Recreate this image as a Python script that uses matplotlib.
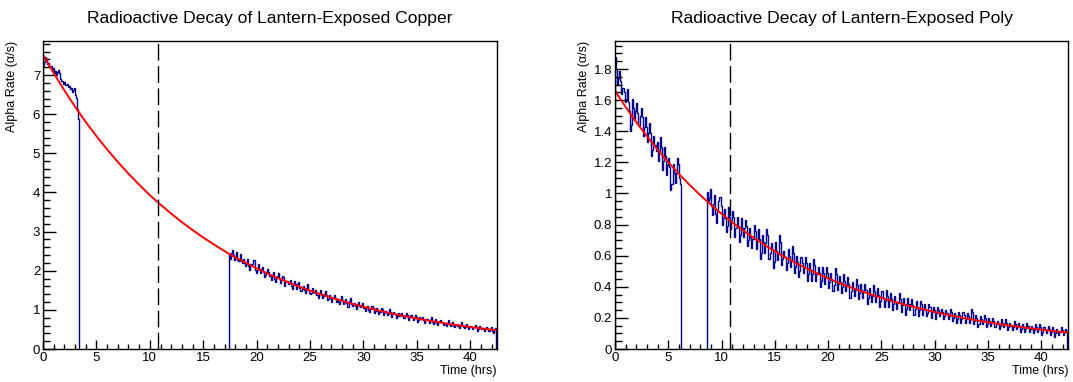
# -*- coding: utf-8 -*-
"""
Radioactive decay of lantern-exposed copper and poly samples.
ROOT-style histograms of alpha rate with exponential fit.
"""

import numpy as np
import matplotlib
matplotlib.use('Agg')
import matplotlib.pyplot as plt
from matplotlib.ticker import MultipleLocator

plt.rcParams['font.family'] = ['Liberation Sans', 'DejaVu Sans']

## Data (0.1 hr bins)

bin_width = 0.1
x_max = 42.5
t_dashed = 10.75

# Copper, first run (starts at 0 hrs)
cu_start1 = 0.0
cu_rate1 = [7.26, 7.34, 7.45, 7.38, 7.27, 7.31, 7.20, 7.23, 7.12, 7.17,
            7.06, 7.10, 7.01, 7.08, 7.14, 7.06, 6.90, 6.84, 6.86, 6.78,
            6.81, 6.74, 6.77, 6.69, 6.72, 6.64, 6.67, 6.57, 6.63, 6.68,
            6.50, 6.42, 6.12, 5.88]
# Copper, second run (starts at 17.4 hrs)
cu_start2 = 17.4
cu_rate2 = [2.41, 2.31, 2.46, 2.52, 2.41, 2.27, 2.36, 2.48, 2.28, 2.24,
            2.42, 2.26, 2.21, 2.29, 2.19, 2.13, 2.17, 2.31, 2.13, 2.01,
            2.17, 2.15, 2.17, 2.27, 2.01, 1.93, 2.01, 2.17, 2.05, 1.93,
            2.05, 2.09, 1.98, 1.84, 1.88, 1.96, 2.04, 1.98, 1.87, 1.77,
            1.86, 1.98, 1.79, 1.71, 1.81, 1.87, 1.93, 1.81, 1.68, 1.78,
            1.87, 1.83, 1.62, 1.74, 1.75, 1.65, 1.71, 1.77, 1.61, 1.53,
            1.63, 1.73, 1.65, 1.53, 1.66, 1.70, 1.57, 1.47, 1.54, 1.62,
            1.50, 1.44, 1.55, 1.67, 1.52, 1.44, 1.40, 1.44, 1.56, 1.46,
            1.43, 1.51, 1.37, 1.31, 1.42, 1.52, 1.39, 1.31, 1.35, 1.41,
            1.48, 1.38, 1.24, 1.28, 1.39, 1.31, 1.20, 1.30, 1.37, 1.31,
            1.21, 1.29, 1.19, 1.15, 1.25, 1.35, 1.23, 1.15, 1.21, 1.27,
            1.18, 1.08, 1.22, 1.30, 1.15, 1.09, 1.14, 1.18, 1.10, 1.02,
            1.12, 1.20, 1.11, 1.07, 1.12, 1.18, 1.06, 0.98, 1.07, 1.11,
            1.00, 0.94, 1.03, 1.11, 1.11, 1.05, 0.93, 0.97, 1.05, 0.97,
            0.89, 0.95, 1.06, 1.02, 0.88, 0.96, 0.98, 0.92, 0.86, 0.90,
            1.01, 0.95, 0.83, 0.91, 0.94, 0.90, 0.79, 0.85, 0.93, 0.85,
            0.89, 0.93, 0.84, 0.78, 0.80, 0.86, 0.91, 0.87, 0.73, 0.81,
            0.87, 0.81, 0.75, 0.79, 0.87, 0.81, 0.69, 0.75, 0.81, 0.77,
            0.77, 0.83, 0.73, 0.67, 0.73, 0.77, 0.73, 0.67, 0.75, 0.81,
            0.69, 0.65, 0.70, 0.76, 0.67, 0.61, 0.68, 0.72, 0.74, 0.68,
            0.61, 0.65, 0.64, 0.58, 0.67, 0.73, 0.64, 0.60, 0.63, 0.69,
            0.60, 0.56, 0.61, 0.65, 0.59, 0.53, 0.62, 0.68, 0.60, 0.56,
            0.53, 0.57, 0.65, 0.59, 0.51, 0.55, 0.60, 0.56, 0.50, 0.56,
            0.61, 0.57, 0.47, 0.51, 0.59, 0.53, 0.50, 0.54, 0.50, 0.46,
            0.51, 0.57, 0.51, 0.47, 0.52, 0.56, 0.47, 0.41, 0.50, 0.54]

# Poly, first run
po_start1 = 0.0
po_rate1 = [1.88, 1.80, 1.70, 1.74, 1.79, 1.72, 1.64, 1.68, 1.65, 1.59,
            1.61, 1.67, 1.59, 1.53, 1.40, 1.44, 1.61, 1.55, 1.47, 1.53,
            1.58, 1.52, 1.44, 1.50, 1.55, 1.49, 1.37, 1.43, 1.49, 1.43,
            1.33, 1.39, 1.45, 1.39, 1.24, 1.28, 1.37, 1.31, 1.27, 1.33,
            1.21, 1.27, 1.36, 1.30, 1.15, 1.21, 1.30, 1.24, 1.12, 1.18,
            1.23, 1.17, 1.02, 1.06, 1.19, 1.13, 1.07, 1.13, 1.23, 1.19,
            1.10, 1.06]
# Poly, second run
po_start2 = 8.6
po_rate2 = [1.01, 0.95, 0.97, 1.03, 0.92, 0.86, 0.93, 0.99, 0.87, 0.81,
            0.89, 0.95, 0.98, 0.92, 0.80, 0.84, 0.90, 0.84, 0.75, 0.79,
            0.91, 0.85, 0.77, 0.83, 0.89, 0.85, 0.72, 0.78, 0.85, 0.79,
            0.69, 0.73, 0.84, 0.78, 0.72, 0.78, 0.83, 0.79, 0.66, 0.70,
            0.78, 0.72, 0.65, 0.71, 0.80, 0.76, 0.64, 0.70, 0.77, 0.71,
            0.58, 0.62, 0.73, 0.69, 0.62, 0.68, 0.77, 0.73, 0.58, 0.62,
            0.68, 0.64, 0.52, 0.56, 0.69, 0.63, 0.57, 0.61, 0.73, 0.69,
            0.54, 0.58, 0.63, 0.59, 0.51, 0.55, 0.64, 0.60, 0.53, 0.57,
            0.66, 0.62, 0.49, 0.53, 0.60, 0.56, 0.46, 0.50, 0.59, 0.55,
            0.49, 0.53, 0.59, 0.55, 0.44, 0.48, 0.55, 0.51, 0.44, 0.48,
            0.58, 0.54, 0.44, 0.48, 0.53, 0.49, 0.40, 0.44, 0.53, 0.49,
            0.42, 0.46, 0.53, 0.49, 0.39, 0.43, 0.49, 0.45, 0.37, 0.41,
            0.52, 0.48, 0.38, 0.42, 0.47, 0.43, 0.36, 0.40, 0.48, 0.44,
            0.37, 0.41, 0.46, 0.42, 0.33, 0.37, 0.43, 0.39, 0.34, 0.38,
            0.45, 0.41, 0.32, 0.36, 0.42, 0.38, 0.33, 0.37, 0.42, 0.38,
            0.29, 0.33, 0.39, 0.35, 0.30, 0.34, 0.41, 0.37, 0.30, 0.34,
            0.39, 0.35, 0.27, 0.31, 0.37, 0.33, 0.27, 0.31, 0.38, 0.34,
            0.27, 0.31, 0.36, 0.32, 0.25, 0.29, 0.34, 0.30, 0.26, 0.30,
            0.36, 0.32, 0.24, 0.28, 0.33, 0.29, 0.22, 0.26, 0.33, 0.29,
            0.25, 0.29, 0.32, 0.28, 0.22, 0.26, 0.31, 0.27, 0.21, 0.25,
            0.31, 0.29, 0.22, 0.26, 0.29, 0.25, 0.21, 0.23, 0.29, 0.27,
            0.20, 0.24, 0.27, 0.25, 0.19, 0.23, 0.27, 0.25, 0.21, 0.23,
            0.26, 0.24, 0.19, 0.21, 0.25, 0.23, 0.19, 0.21, 0.26, 0.24,
            0.18, 0.20, 0.23, 0.21, 0.17, 0.19, 0.24, 0.22, 0.17, 0.19,
            0.24, 0.22, 0.17, 0.19, 0.23, 0.21, 0.17, 0.19, 0.26, 0.24,
            0.16, 0.18, 0.22, 0.20, 0.14, 0.16, 0.21, 0.19, 0.16, 0.18,
            0.22, 0.20, 0.14, 0.16, 0.20, 0.18, 0.15, 0.17, 0.20, 0.18,
            0.14, 0.16, 0.18, 0.16, 0.13, 0.15, 0.19, 0.17, 0.14, 0.16,
            0.19, 0.17, 0.12, 0.14, 0.17, 0.15, 0.12, 0.14, 0.18, 0.16,
            0.13, 0.15, 0.17, 0.15, 0.11, 0.13, 0.16, 0.14, 0.11, 0.13,
            0.17, 0.15, 0.11, 0.13, 0.15, 0.13, 0.10, 0.12, 0.16, 0.14,
            0.11, 0.13, 0.16, 0.14, 0.09, 0.11, 0.14, 0.12, 0.10, 0.12,
            0.15, 0.13, 0.09, 0.11, 0.14, 0.12, 0.08, 0.10, 0.13, 0.11,
            0.09, 0.11, 0.14, 0.12, 0.09, 0.11, 0.13, 0.11]

# Fit curves (red), read every hour
fit_time = [0, 1, 2, 3, 4, 5, 6, 7, 8, 9, 10, 11, 12, 13, 14, 15, 16, 17,
            18, 19, 20, 21, 22, 23, 24, 25, 26, 27, 28, 29, 30, 31, 32, 33,
            34, 35, 36, 37, 38, 39, 40, 41, 42, 42.5]
cu_fit = [7.52, 7.05, 6.61, 6.19, 5.80, 5.44, 5.10, 4.78, 4.48, 4.20,
          3.93, 3.69, 3.46, 3.24, 3.04, 2.85, 2.67, 2.50, 2.34, 2.20,
          2.06, 1.93, 1.81, 1.70, 1.59, 1.49, 1.40, 1.31, 1.23, 1.15,
          1.08, 1.01, 0.946, 0.887, 0.831, 0.779, 0.730, 0.684, 0.641,
          0.601, 0.563, 0.528, 0.495, 0.479]
po_fit = [1.660, 1.556, 1.458, 1.367, 1.281, 1.201, 1.125, 1.055, 0.989,
          0.927, 0.869, 0.814, 0.763, 0.715, 0.670, 0.628, 0.589, 0.552,
          0.517, 0.485, 0.454, 0.426, 0.399, 0.374, 0.351, 0.329, 0.308,
          0.289, 0.271, 0.254, 0.238, 0.223, 0.209, 0.196, 0.183, 0.172,
          0.161, 0.151, 0.142, 0.133, 0.124, 0.117, 0.109, 0.106]

hist_color = '#00008f'
fit_color = '#ff0000'


def bin_edges(start, rates):
    # Edges of consecutive bins beginning at the run start
    return start + bin_width * np.arange(len(rates) + 1)


def draw_panel(ax, runs, fit_vals, y_max, y_major, y_minor, title):
    for start, rates in runs:
        edges = bin_edges(start, rates)
        edges[-1] = min(edges[-1], x_max)
        ax.stairs(rates, edges, baseline=0, color=hist_color, linewidth=1.0)
    ax.plot(fit_time, fit_vals, color=fit_color, linewidth=1.4)
    ax.axvline(t_dashed, color='black', linewidth=1.0, linestyle=(0, (12, 4)))

    ax.set_xlim(0, x_max)
    ax.set_ylim(0, y_max)
    ax.xaxis.set_major_locator(MultipleLocator(5))
    ax.xaxis.set_minor_locator(MultipleLocator(1))
    ax.yaxis.set_major_locator(MultipleLocator(y_major))
    ax.yaxis.set_minor_locator(MultipleLocator(y_minor))
    ax.tick_params(axis='both', which='both', direction='in', width=1,
                   labelsize=9.5, top=False, right=False)
    ax.tick_params(axis='y', which='major', length=9.5, pad=2)
    ax.tick_params(axis='y', which='minor', length=4.8)
    ax.tick_params(axis='x', which='major', length=6.6, pad=2)
    ax.tick_params(axis='x', which='minor', length=3.3)
    for sp in ax.spines.values():
        sp.set_linewidth(1)

    ax.set_xlabel('Time (hrs)', loc='right', fontsize=9, labelpad=1)
    ax.set_ylabel('Alpha Rate (\u03b1/s)', loc='top', fontsize=9)
    ax.yaxis.set_label_coords(-0.055, 1.0)
    ax.set_title(title, fontsize=12.6, pad=13)


fig_ure = plt.figure(figsize=(10.73, 3.82), dpi=100)
ax1 = fig_ure.add_axes([43 / 1073, 1 - 349 / 382, 454 / 1073, 308 / 382])
ax2 = fig_ure.add_axes([615 / 1073, 1 - 349 / 382, 453 / 1073, 308 / 382])

draw_panel(ax1, [(cu_start1, cu_rate1), (cu_start2, cu_rate2)], cu_fit,
           7.87, 1, 0.2, 'Radioactive Decay of Lantern-Exposed Copper')
draw_panel(ax2, [(po_start1, po_rate1), (po_start2, po_rate2)], po_fit,
           1.98, 0.2, 0.05, 'Radioactive Decay of Lantern-Exposed Poly')

# Labels as ROOT prints them
ax2.yaxis.set_major_formatter(plt.FuncFormatter(lambda v, p: ('%g' % round(v, 2))))

fig_ure.savefig('out.png', dpi=100)
